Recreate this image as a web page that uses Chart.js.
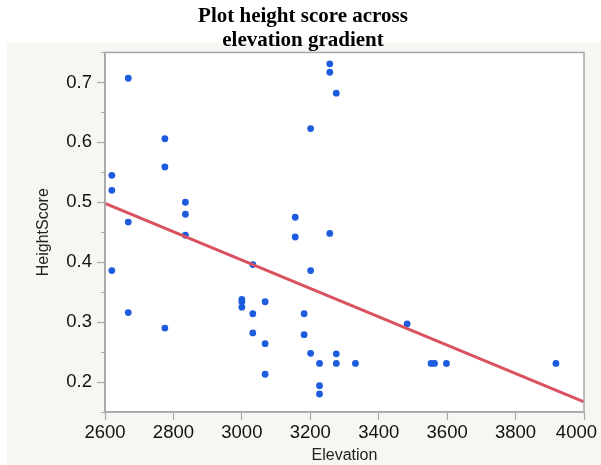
<!DOCTYPE html>
<html>
<head>
<meta charset="utf-8">
<script src="https://cdn.jsdelivr.net/npm/chart.js@4.4.1/dist/chart.umd.min.js"></script>
<style>
  html, body { margin: 0; padding: 0; background: #ffffff; }
  #wrap { width: 601px; height: 465px; }
</style>
</head>
<body>
<div id="wrap"><canvas id="height-chart" width="601" height="465"></canvas></div>
<script>
// Plot data: elevation (m) vs. height score
const elevation = [
    2620, 2620, 2620, 2668, 2668, 2668, 2775, 2775, 2775, 2835, 2835, 2835,
    3000, 3000, 3000, 3032, 3032, 3032, 3068, 3068, 3068, 3156, 3156, 3182,
    3182, 3201, 3201, 3201, 3227, 3227, 3227, 3257, 3257, 3257, 3276, 3276,
    3276, 3332, 3483, 3553, 3563, 3598, 3918
]
const heightScore = [
    0.545, 0.520, 0.386, 0.707, 0.467, 0.316, 0.606, 0.559, 0.290, 0.500, 0.480, 0.445,
    0.338, 0.334, 0.325, 0.396, 0.314, 0.282, 0.334, 0.264, 0.213, 0.475, 0.442, 0.314,
    0.279, 0.623, 0.386, 0.248, 0.231, 0.194, 0.180, 0.731, 0.717, 0.448, 0.682, 0.247,
    0.231, 0.231, 0.297, 0.231, 0.231, 0.231, 0.231
]

// Linear fit line end points
const fitElevation = [2600, 4000]
const fitScore = [0.498, 0.167]

// Axis ticks
const xTicks = [2600, 2800, 3000, 3200, 3400, 3600, 3800, 4000]
const yTicks = [0.2, 0.3, 0.4, 0.5, 0.6, 0.7]
const yMinorTicks = [0.15, 0.25, 0.35, 0.45, 0.55, 0.65, 0.75]

const titleLines = ['Plot height score across', 'elevation gradient']

const points = elevation.map((x, i) => ({ x: x, y: heightScore[i] }))
const fitPoints = fitElevation.map((x, i) => ({ x: x, y: fitScore[i] }))

const frameColor = '#a8a8a8'
const sansFont = '"Liberation Sans", Arial, sans-serif'

// panel background, white plot area, frame and minor y ticks
const panelPlugin = {
    id: 'panel',
    beforeDraw(chart) {
        const ctx = chart.ctx
        const area = chart.chartArea
        ctx.save()
        ctx.fillStyle = '#ffffff'
        ctx.fillRect(0, 0, chart.width, chart.height)
        ctx.fillStyle = '#f7f6f2'
        ctx.fillRect(7, 43, chart.width - 7, chart.height - 43)
        ctx.fillStyle = '#ffffff'
        ctx.fillRect(area.left, area.top, area.right - area.left, area.bottom - area.top)

        // keep the last x label inside the canvas
        const items = chart.scales.x.getLabelItems()
        const last = items[items.length - 1]
        if (last) {
            ctx.font = last.font.string
            const w = ctx.measureText(String(last.label)).width
            const tr = last.options.translation
            tr[0] = Math.min(tr[0], chart.width - 4 - w / 2)
        }
        ctx.restore()
    },
    afterDraw(chart) {
        const ctx = chart.ctx
        const area = chart.chartArea
        const y = chart.scales.y
        ctx.save()
        ctx.strokeStyle = frameColor
        ctx.lineWidth = 1.5
        ctx.strokeRect(area.left, area.top, area.right - area.left, area.bottom - area.top)
        ctx.lineWidth = 1.2
        ctx.beginPath()
        yMinorTicks.forEach(v => {
            const py = Math.round(y.getPixelForValue(v)) + 0.5
            ctx.moveTo(area.left - 4, py)
            ctx.lineTo(area.left, py)
        })
        ctx.stroke()
        ctx.restore()
    }
}

const config = {
    type: 'scatter',
    data: {
        datasets: [{
            type: 'line',
            data: fitPoints,
            borderColor: 'rgb(218, 82, 96)',
            borderWidth: 3,
            pointRadius: 0,
            fill: false,
            order: 0
        }, {
            data: points,
            backgroundColor: 'rgb(30, 92, 222)',
            borderColor: 'rgb(30, 92, 222)',
            borderWidth: 0,
            pointRadius: 3.4,
            order: 1
        }]
    },
    options: {
        responsive: false,
        animation: false,
        layout: {
            padding: { left: 22, right: 17, top: 0, bottom: 0 }
        },
        plugins: {
            legend: { display: false },
            tooltip: { enabled: false },
            title: {
                display: true,
                text: titleLines,
                color: '#000000',
                font: { family: '"Liberation Serif", "Times New Roman", serif', size: 21, weight: 'bold', lineHeight: 1.13 },
                padding: { top: 5, bottom: 0 }
            }
        },
        scales: {
            x: {
                type: 'linear',
                min: 2600,
                max: 4000,
                afterBuildTicks: scale => { scale.ticks = xTicks.map(v => ({ value: v })) },
                afterFit: scale => {
                    scale.height = 53
                    scale.paddingLeft = 0
                    scale.paddingRight = 0
                },
                grid: {
                    drawOnChartArea: false,
                    drawTicks: true,
                    tickLength: 8,
                    tickColor: frameColor,
                    tickWidth: 1.2
                },
                border: { display: true, color: frameColor, width: 1.5 },
                ticks: {
                    color: '#111111',
                    padding: 2,
                    maxRotation: 0,
                    font: { family: sansFont, size: 18.5 },
                    callback: value => String(value)
                },
                title: {
                    display: true,
                    text: 'Elevation',
                    color: '#222222',
                    font: { family: sansFont, size: 16 },
                    padding: { top: 0, bottom: 0 }
                }
            },
            y: {
                type: 'linear',
                min: 0.15,
                max: 0.75,
                afterBuildTicks: scale => { scale.ticks = yTicks.map(v => ({ value: v })) },
                afterFit: scale => { scale.width = 83 },
                grid: {
                    drawOnChartArea: false,
                    drawTicks: true,
                    tickLength: 8,
                    tickColor: frameColor,
                    tickWidth: 1.2
                },
                border: { display: true, color: frameColor, width: 1.5 },
                ticks: {
                    color: '#111111',
                    padding: 5,
                    font: { family: sansFont, size: 18.5 },
                    callback: value => value.toFixed(1)
                },
                title: {
                    display: true,
                    text: 'HeightScore',
                    color: '#222222',
                    font: { family: sansFont, size: 16 },
                    padding: { top: 12, bottom: 0 }
                }
            }
        }
    },
    plugins: [panelPlugin]
}

const heightChart = new Chart(document.getElementById('height-chart'), config)
</script>
</body>
</html>
